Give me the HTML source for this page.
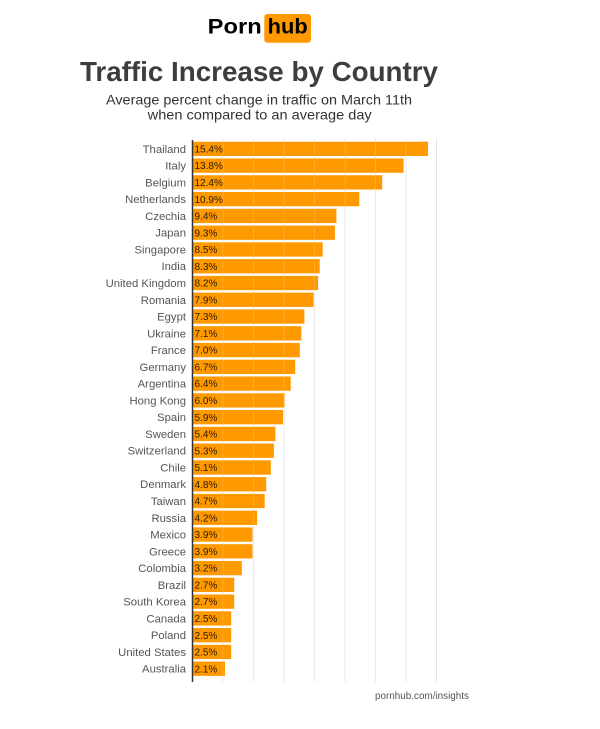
<!DOCTYPE html>
<html><head><meta charset="utf-8"><style>
html,body{margin:0;padding:0;background:#fff;}
svg{display:block;}
text{font-family:"Liberation Sans",sans-serif;}
.b{fill:#ff9900;}
.l{font-size:11.3px;fill:#555;text-anchor:end;}
.v{font-size:10px;fill:#2b1a00;}
</style></head><body>
<svg width="600" height="729" viewBox="0 0 600 729" xmlns="http://www.w3.org/2000/svg">
<rect width="600" height="729" fill="#fff"/>
<text x="207.7" y="33.3" font-size="21" font-weight="bold" fill="#000" textLength="54" lengthAdjust="spacingAndGlyphs">Porn</text>
<rect x="264.3" y="14" width="46.7" height="28.7" rx="3" fill="#ff9900"/>
<text x="267.7" y="33.3" font-size="21" font-weight="bold" fill="#000" textLength="40" lengthAdjust="spacingAndGlyphs">hub</text>
<text x="80" y="81" font-size="27.5" font-weight="bold" fill="#3d3d3d" textLength="358" lengthAdjust="spacingAndGlyphs">Traffic Increase by Country</text>
<text x="106" y="104.3" font-size="14" fill="#333" textLength="306" lengthAdjust="spacingAndGlyphs">Average percent change in traffic on March 11th</text>
<text x="147.7" y="119.3" font-size="14" fill="#333" textLength="224" lengthAdjust="spacingAndGlyphs">when compared to an average day</text>
<g stroke="#e6e6e6" stroke-width="1">
<line x1="223" y1="138" x2="223" y2="682"/>
<line x1="253.5" y1="138" x2="253.5" y2="682"/>
<line x1="284" y1="138" x2="284" y2="682"/>
<line x1="314.5" y1="138" x2="314.5" y2="682"/>
<line x1="345" y1="138" x2="345" y2="682"/>
<line x1="375.5" y1="138" x2="375.5" y2="682"/>
<line x1="406" y1="138" x2="406" y2="682"/>
<line x1="436.5" y1="138" x2="436.5" y2="682"/>
</g>
<g transform="translate(0,141.70)"><rect class="b" x="193" y="0" width="235.0" height="14.3"/><text class="l" x="186" y="11.15">Thailand</text><text class="v" x="194.5" y="10.75">15.4%</text></g>
<g transform="translate(0,158.47)"><rect class="b" x="193" y="0" width="210.6" height="14.3"/><text class="l" x="186" y="11.15">Italy</text><text class="v" x="194.5" y="10.75">13.8%</text></g>
<g transform="translate(0,175.24)"><rect class="b" x="193" y="0" width="189.2" height="14.3"/><text class="l" x="186" y="11.15">Belgium</text><text class="v" x="194.5" y="10.75">12.4%</text></g>
<g transform="translate(0,192.01)"><rect class="b" x="193" y="0" width="166.3" height="14.3"/><text class="l" x="186" y="11.15">Netherlands</text><text class="v" x="194.5" y="10.75">10.9%</text></g>
<g transform="translate(0,208.78)"><rect class="b" x="193" y="0" width="143.4" height="14.3"/><text class="l" x="186" y="11.15">Czechia</text><text class="v" x="194.5" y="10.75">9.4%</text></g>
<g transform="translate(0,225.55)"><rect class="b" x="193" y="0" width="141.9" height="14.3"/><text class="l" x="186" y="11.15">Japan</text><text class="v" x="194.5" y="10.75">9.3%</text></g>
<g transform="translate(0,242.32)"><rect class="b" x="193" y="0" width="129.7" height="14.3"/><text class="l" x="186" y="11.15">Singapore</text><text class="v" x="194.5" y="10.75">8.5%</text></g>
<g transform="translate(0,259.09)"><rect class="b" x="193" y="0" width="126.7" height="14.3"/><text class="l" x="186" y="11.15">India</text><text class="v" x="194.5" y="10.75">8.3%</text></g>
<g transform="translate(0,275.86)"><rect class="b" x="193" y="0" width="125.1" height="14.3"/><text class="l" x="186" y="11.15">United Kingdom</text><text class="v" x="194.5" y="10.75">8.2%</text></g>
<g transform="translate(0,292.63)"><rect class="b" x="193" y="0" width="120.6" height="14.3"/><text class="l" x="186" y="11.15">Romania</text><text class="v" x="194.5" y="10.75">7.9%</text></g>
<g transform="translate(0,309.40)"><rect class="b" x="193" y="0" width="111.4" height="14.3"/><text class="l" x="186" y="11.15">Egypt</text><text class="v" x="194.5" y="10.75">7.3%</text></g>
<g transform="translate(0,326.17)"><rect class="b" x="193" y="0" width="108.3" height="14.3"/><text class="l" x="186" y="11.15">Ukraine</text><text class="v" x="194.5" y="10.75">7.1%</text></g>
<g transform="translate(0,342.94)"><rect class="b" x="193" y="0" width="106.8" height="14.3"/><text class="l" x="186" y="11.15">France</text><text class="v" x="194.5" y="10.75">7.0%</text></g>
<g transform="translate(0,359.71)"><rect class="b" x="193" y="0" width="102.2" height="14.3"/><text class="l" x="186" y="11.15">Germany</text><text class="v" x="194.5" y="10.75">6.7%</text></g>
<g transform="translate(0,376.48)"><rect class="b" x="193" y="0" width="97.7" height="14.3"/><text class="l" x="186" y="11.15">Argentina</text><text class="v" x="194.5" y="10.75">6.4%</text></g>
<g transform="translate(0,393.25)"><rect class="b" x="193" y="0" width="91.6" height="14.3"/><text class="l" x="186" y="11.15">Hong Kong</text><text class="v" x="194.5" y="10.75">6.0%</text></g>
<g transform="translate(0,410.02)"><rect class="b" x="193" y="0" width="90.0" height="14.3"/><text class="l" x="186" y="11.15">Spain</text><text class="v" x="194.5" y="10.75">5.9%</text></g>
<g transform="translate(0,426.79)"><rect class="b" x="193" y="0" width="82.4" height="14.3"/><text class="l" x="186" y="11.15">Sweden</text><text class="v" x="194.5" y="10.75">5.4%</text></g>
<g transform="translate(0,443.56)"><rect class="b" x="193" y="0" width="80.9" height="14.3"/><text class="l" x="186" y="11.15">Switzerland</text><text class="v" x="194.5" y="10.75">5.3%</text></g>
<g transform="translate(0,460.33)"><rect class="b" x="193" y="0" width="77.8" height="14.3"/><text class="l" x="186" y="11.15">Chile</text><text class="v" x="194.5" y="10.75">5.1%</text></g>
<g transform="translate(0,477.10)"><rect class="b" x="193" y="0" width="73.2" height="14.3"/><text class="l" x="186" y="11.15">Denmark</text><text class="v" x="194.5" y="10.75">4.8%</text></g>
<g transform="translate(0,493.87)"><rect class="b" x="193" y="0" width="71.7" height="14.3"/><text class="l" x="186" y="11.15">Taiwan</text><text class="v" x="194.5" y="10.75">4.7%</text></g>
<g transform="translate(0,510.64)"><rect class="b" x="193" y="0" width="64.1" height="14.3"/><text class="l" x="186" y="11.15">Russia</text><text class="v" x="194.5" y="10.75">4.2%</text></g>
<g transform="translate(0,527.41)"><rect class="b" x="193" y="0" width="59.5" height="14.3"/><text class="l" x="186" y="11.15">Mexico</text><text class="v" x="194.5" y="10.75">3.9%</text></g>
<g transform="translate(0,544.18)"><rect class="b" x="193" y="0" width="59.5" height="14.3"/><text class="l" x="186" y="11.15">Greece</text><text class="v" x="194.5" y="10.75">3.9%</text></g>
<g transform="translate(0,560.95)"><rect class="b" x="193" y="0" width="48.8" height="14.3"/><text class="l" x="186" y="11.15">Colombia</text><text class="v" x="194.5" y="10.75">3.2%</text></g>
<g transform="translate(0,577.72)"><rect class="b" x="193" y="0" width="41.2" height="14.3"/><text class="l" x="186" y="11.15">Brazil</text><text class="v" x="194.5" y="10.75">2.7%</text></g>
<g transform="translate(0,594.49)"><rect class="b" x="193" y="0" width="41.2" height="14.3"/><text class="l" x="186" y="11.15">South Korea</text><text class="v" x="194.5" y="10.75">2.7%</text></g>
<g transform="translate(0,611.26)"><rect class="b" x="193" y="0" width="38.2" height="14.3"/><text class="l" x="186" y="11.15">Canada</text><text class="v" x="194.5" y="10.75">2.5%</text></g>
<g transform="translate(0,628.03)"><rect class="b" x="193" y="0" width="38.2" height="14.3"/><text class="l" x="186" y="11.15">Poland</text><text class="v" x="194.5" y="10.75">2.5%</text></g>
<g transform="translate(0,644.80)"><rect class="b" x="193" y="0" width="38.2" height="14.3"/><text class="l" x="186" y="11.15">United States</text><text class="v" x="194.5" y="10.75">2.5%</text></g>
<g transform="translate(0,661.57)"><rect class="b" x="193" y="0" width="32.0" height="14.3"/><text class="l" x="186" y="11.15">Australia</text><text class="v" x="194.5" y="10.75">2.1%</text></g>
<g stroke="#ffffff" stroke-opacity="0.18" stroke-width="1">
<line x1="223" y1="138" x2="223" y2="682"/>
<line x1="253.5" y1="138" x2="253.5" y2="682"/>
<line x1="284" y1="138" x2="284" y2="682"/>
<line x1="314.5" y1="138" x2="314.5" y2="682"/>
<line x1="345" y1="138" x2="345" y2="682"/>
<line x1="375.5" y1="138" x2="375.5" y2="682"/>
<line x1="406" y1="138" x2="406" y2="682"/>
</g>
<line x1="192.5" y1="140" x2="192.5" y2="682" stroke="#333" stroke-width="1.5"/>
<text x="375" y="699" font-size="10" fill="#555" textLength="94" lengthAdjust="spacingAndGlyphs">pornhub.com/insights</text>
</svg>
</body></html>
